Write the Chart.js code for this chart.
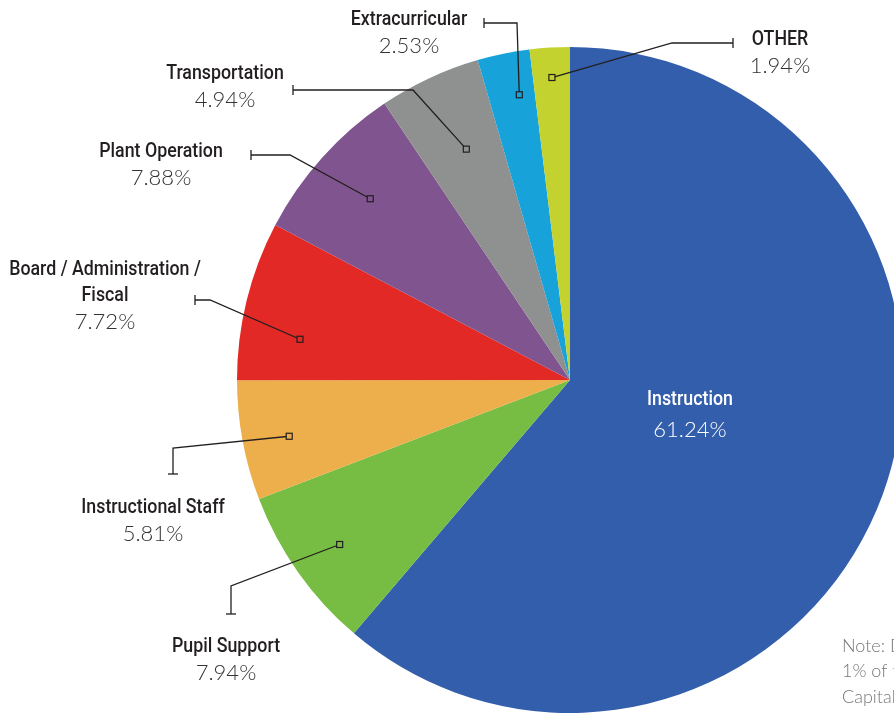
<!DOCTYPE html>
<html>
<head>
<meta charset="utf-8">
<script src="https://cdn.jsdelivr.net/npm/chart.js@4.4.1/dist/chart.umd.min.js"></script>
<style>
html, body { margin: 0; padding: 0; background: #fff; overflow: hidden; }
#wrap { width: 894px; height: 713px; overflow: hidden; position: relative; }
canvas { display: block; }
</style>
</head>
<body>
<div id="wrap"><canvas id="spendingPie" width="903" height="713"></canvas></div>
<script>
// Data
const categories = ['Instruction', 'Pupil Support', 'Instructional Staff', 'Board / Administration / Fiscal',
    'Plant Operation', 'Transportation', 'Extracurricular', 'OTHER'];
const shares = [61.24, 7.94, 5.81, 7.72, 7.88, 4.94, 2.53, 1.94];
const sliceColors = ['#335eab', '#77bc43', '#edaf4b', '#e22926', '#80548e', '#8f9190', '#17a2da', '#c4d22f'];

// label lines (name rows) for each slice
const labelLines = [
    ['Instruction'],
    ['Pupil Support'],
    ['Instructional Staff'],
    ['Board / Administration /', 'Fiscal'],
    ['Plant Operation'],
    ['Transportation'],
    ['Extracurricular'],
    ['OTHER']
];

// Callout layout, offsets from the pie centre (px)
// at: position along the slice (0..1), depth: share of radius for the marker
const callouts = [
    null,
    { at: 0.49, depth: 0.85, elbow: [-339, 206], end: [-339, 234], label: [-344, 267] },
    { at: 0.46, depth: 0.86, elbow: [-397, 68], end: [-397, 94], label: [-417, 128] },
    { at: 0.31, depth: 0.82, elbow: [-360, -80], end: [-375, -80], label: [-465, -110] },
    { at: 0.51, depth: 0.81, elbow: [-280, -225], end: [-319, -225], label: [-409, -228] },
    { at: 0.545, depth: 0.76, elbow: [-157, -290], end: [-277, -290], label: [-345, -306] },
    { at: 0.66, depth: 0.87, elbow: [-53, -357], end: [-86, -357], label: [-161, -360] },
    { at: 0.51, depth: 0.91, elbow: [102, -337], end: [163, -337], label: [210, -340] }
];

const nameFont = '500 20px Roboto, "DejaVu Sans", sans-serif';
const nameSquash = 0.89; // condensed look for the category names
const pctFont = '300 22px Lato, "Open Sans", sans-serif';

function drawName(ctx, text, x, y) {
    ctx.save();
    ctx.translate(x, y);
    ctx.scale(nameSquash, 1);
    ctx.fillText(text, 0, 0);
    ctx.restore();
}

const calloutPlugin = {
    id: 'callouts',
    afterDatasetsDraw(chart) {
        const ctx = chart.ctx;
        const arcs = chart.getDatasetMeta(0).data;
        const cx = arcs[0].x, cy = arcs[0].y;
        ctx.save();
        ctx.textAlign = 'center';
        ctx.textBaseline = 'middle';

        // inside label for the big slice
        ctx.fillStyle = '#ffffff';
        ctx.font = nameFont;
        drawName(ctx, labelLines[0][0], cx + 120, cy + 20);
        ctx.font = pctFont;
        ctx.fillText(shares[0].toFixed(2) + '%', cx + 120, cy + 50);

        for (let i = 1; i < arcs.length; i++) {
            const c = callouts[i];
            const a = arcs[i];
            const ang = a.startAngle + (a.endAngle - a.startAngle) * c.at;
            const r = a.outerRadius * c.depth;
            const mx = cx + Math.cos(ang) * r;
            const my = cy + Math.sin(ang) * r;
            const ex = cx + c.elbow[0], ey = cy + c.elbow[1];
            const tx = cx + c.end[0], ty = cy + c.end[1];

            ctx.strokeStyle = '#231f20';
            ctx.lineWidth = 1.3;
            ctx.beginPath();
            ctx.moveTo(mx, my);
            ctx.lineTo(ex, ey);
            ctx.lineTo(tx, ty);
            ctx.stroke();

            // end tick, perpendicular to the last segment
            ctx.beginPath();
            if (Math.abs(tx - ex) > Math.abs(ty - ey)) {
                ctx.moveTo(tx, ty - 5);
                ctx.lineTo(tx, ty + 5);
            } else {
                ctx.moveTo(tx - 5, ty);
                ctx.lineTo(tx + 5, ty);
            }
            ctx.stroke();

            // small square marker
            ctx.fillStyle = sliceColors[i];
            ctx.fillRect(mx - 3, my - 3, 6, 6);
            ctx.lineWidth = 1.2;
            ctx.strokeRect(mx - 3, my - 3, 6, 6);

            // label text
            const lx = cx + c.label[0];
            let ly = cy + c.label[1];
            ctx.fillStyle = '#231f20';
            ctx.font = nameFont;
            labelLines[i].forEach(line => {
                drawName(ctx, line, lx, ly);
                ly += 26;
            });
            ctx.fillStyle = '#333333';
            ctx.font = pctFont;
            ctx.fillText(shares[i].toFixed(2) + '%', lx, ly);
        }

        // note text (runs off the page edge)
        ctx.textAlign = 'left';
        ctx.fillStyle = '#777777';
        ctx.font = '300 18px Lato, "Open Sans", sans-serif';
        ctx.fillText('Note: Debt service is less than', cx + 272, cy + 266);
        ctx.fillText('1% of total expenditures.', cx + 272, cy + 291);
        ctx.fillText('Capital outlay not included.', cx + 272, cy + 317);
        ctx.restore();
    }
};

function createSpendingPie() {
    const ctx = document.getElementById('spendingPie').getContext('2d');
    return new Chart(ctx, {
        type: 'pie',
        data: {
            labels: categories,
            datasets: [{
                data: shares,
                backgroundColor: sliceColors,
                borderWidth: 0
            }]
        },
        options: {
            responsive: false,
            animation: false,
            layout: { padding: { left: 237, top: 47, right: 0, bottom: 0 } },
            plugins: {
                legend: { display: false },
                tooltip: { enabled: false }
            }
        },
        plugins: [calloutPlugin]
    });
}

createSpendingPie();
</script>
</body>
</html>
